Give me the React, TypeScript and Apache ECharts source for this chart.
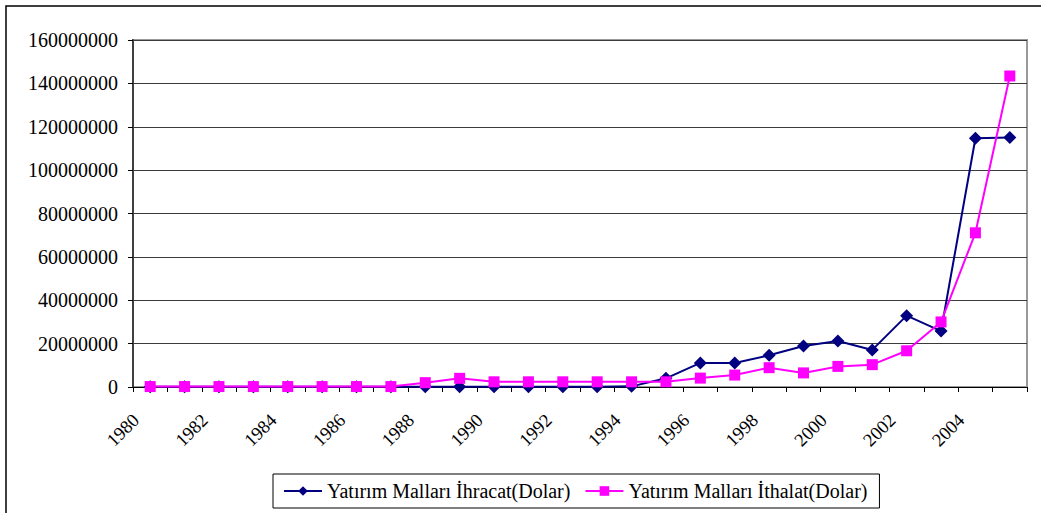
import React, { useEffect, useRef } from "react";
import * as echarts from "echarts";

const years: string[] = [
  "1980", "1981", "1982", "1983", "1984", "1985", "1986", "1987", "1988", "1989",
  "1990", "1991", "1992", "1993", "1994", "1995", "1996", "1997", "1998", "1999",
  "2000", "2001", "2002", "2003", "2004", "2005",
];

const exportValues: number[] = [
  100000, 100000, 100000, 100000, 100000, 100000, 100000, 100000, 100000, 100000,
  100000, 100000, 100000, 150000, 300000, 4000000, 11100000, 11100000, 14600000, 18900000,
  21200000, 17100000, 32900000, 25800000, 114700000, 115100000,
];

const importValues: number[] = [
  200000, 200000, 200000, 200000, 200000, 200000, 200000, 200000, 2000000, 4000000,
  2400000, 2400000, 2400000, 2400000, 2400000, 2400000, 4100000, 5500000, 8900000, 6500000,
  9500000, 10300000, 16700000, 30000000, 71100000, 143400000,
];

const exportName = "Yatırım Malları İhracat(Dolar)";
const importName = "Yatırım Malları İthalat(Dolar)";

const FONT = "Liberation Serif, Times New Roman, serif";

export default function App() {
  const ref = useRef<HTMLDivElement>(null);
  useEffect(() => {
    if (!ref.current) return;
    const chart = echarts.init(ref.current, null, { renderer: "svg" });
    chart.setOption({
      animation: false,
      backgroundColor: "#ffffff",
      textStyle: { fontFamily: FONT },
      graphic: [
        {
          type: "rect",
          shape: { x: 6, y: 6, width: 1050, height: 530 },
          style: { fill: "none", stroke: "#000", lineWidth: 1.5 },
          silent: true,
          z: -1,
        },
      ],
      grid: {
        left: 133,
        right: 14,
        top: 40,
        bottom: 126,
        show: true,
        borderColor: "#999999",
        borderWidth: 2,
        backgroundColor: "transparent",
      },
      legend: {
        left: 273,
        top: 474,
        orient: "horizontal",
        borderColor: "#000",
        borderWidth: 1,
        padding: [7, 12, 7, 10],
        itemGap: 14,
        itemWidth: 38,
        itemHeight: 12,
        textStyle: { fontFamily: FONT, fontSize: 20, color: "#000" },
        data: [exportName, importName],
      },
      xAxis: {
        type: "category",
        data: years,
        boundaryGap: true,
        axisLine: { show: true, lineStyle: { color: "#000", width: 1 } },
        axisTick: { show: true, interval: 0, length: 5, lineStyle: { color: "#000" } },
        axisLabel: {
          interval: 1,
          rotate: 45,
          margin: 16,
          padding: [0, 20, 0, 0],
          fontFamily: FONT,
          fontSize: 18.5,
          color: "#000",
        },
        splitLine: { show: false },
      },
      yAxis: {
        type: "value",
        min: 0,
        max: 160000000,
        interval: 20000000,
        axisLine: { show: true, lineStyle: { color: "#404040", width: 2 } },
        axisTick: { show: true, length: 5, lineStyle: { color: "#000" } },
        axisLabel: {
          margin: 15,
          fontFamily: FONT,
          fontSize: 20,
          color: "#000",
          formatter: (v: number) => String(v),
        },
        splitLine: { show: true, lineStyle: { color: "#3a3a3a", width: 1 } },
      },
      series: [
        {
          name: exportName,
          type: "line",
          data: exportValues,
          symbol: "diamond",
          symbolSize: 13,
          itemStyle: { color: "#000080" },
          lineStyle: { color: "#000080", width: 2 },
          z: 3,
        },
        {
          name: importName,
          type: "line",
          data: importValues,
          symbol: "rect",
          symbolSize: 11,
          itemStyle: { color: "#FF00FF" },
          lineStyle: { color: "#FF00FF", width: 2 },
          z: 4,
        },
      ],
    });
    return () => chart.dispose();
  }, []);
  return (
    <div
      ref={ref}
      style={{ position: "fixed", left: 0, top: 0, width: 1041, height: 513, background: "#fff" }}
    />
  );
}
